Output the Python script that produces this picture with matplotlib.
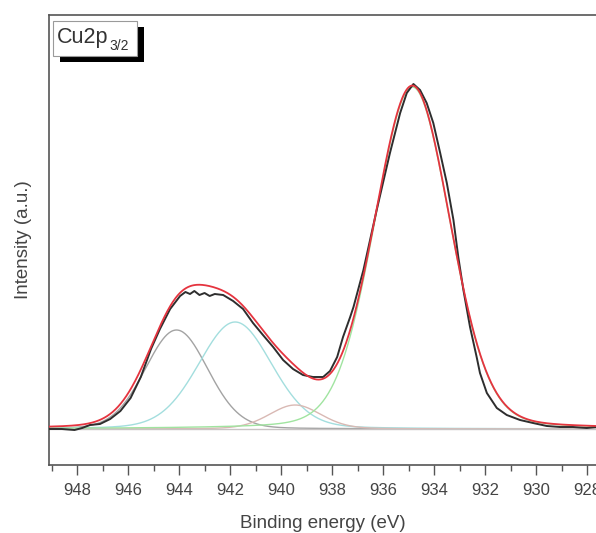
import numpy as np
import matplotlib
matplotlib.use("Agg")
import matplotlib.pyplot as plt
from matplotlib.patches import Rectangle

plt.rcParams['font.family'] = ['Liberation Sans', 'DejaVu Sans']

# Measured spectrum (binding energy in eV, intensity in a.u. above baseline)
energy = [949.1, 948.6, 948.1, 947.8, 947.5, 947.1, 946.7, 946.3, 945.9, 945.5,
          945.1, 944.75, 944.35, 943.96, 943.75, 943.57, 943.4, 943.2, 943.0, 942.8,
          942.6, 942.27, 941.88, 941.49, 941.1, 940.71, 940.31, 939.92, 939.53, 939.14,
          938.75, 938.35, 938.08, 937.8, 937.57, 937.29, 937.16, 936.77, 936.25, 935.73,
          935.33, 935.07, 934.81, 934.55, 934.29, 934.03, 933.76, 933.5, 933.24, 933.05,
          932.85, 932.59, 932.33, 932.2, 931.93, 931.54, 931.15, 930.63, 930.12, 929.58,
          929.06, 928.55, 928.01, 927.65]
intensity = [0, 0, -1, 1, 4, 5, 10, 18, 31, 52,
             80, 100, 120, 133, 137, 135, 138, 134, 136, 133,
             135, 134, 128, 120, 106, 94, 82, 69, 60, 54,
             52, 52, 58, 72, 92, 112, 122, 159, 219, 276,
             316, 336, 345, 339, 326, 306, 276, 246, 209, 172,
             139, 102, 72, 56, 36, 21, 14, 9, 6, 3,
             2, 2, 1, 2]

# Fitted components (pseudo-Voigt): centre, height, FWHM, Lorentzian fraction
comp_names = ["sat1", "sat2", "sat3", "main"]
comp_center = [944.1, 941.8, 939.45, 934.85]
comp_height = [99, 107, 24, 342]
comp_fwhm = [2.9, 3.4, 2.4, 3.5]
comp_mix = [0.1, 0.15, 0.2, 0.14]
comp_colors = ["#a3a3a3", "#a3dede", "#d9b9b4", "#a0e4a0"]

xlim = (949.1, 927.65)
ylim = (-36, 414)


def pv(x, c, h, w, m):
    d2 = ((x - c) / w) ** 2
    return h * (m / (1 + 4 * d2) + (1 - m) * np.exp(-4 * np.log(2) * d2))


W, H = 596, 533
fig = plt.figure(figsize=(W / 100, H / 100), dpi=100)
ax = fig.add_axes([49 / W, (H - 465) / H, 547 / W, 450 / H])

xs = np.linspace(xlim[0], xlim[1], 800)
total = np.zeros_like(xs)
for c, h, w, m, col in zip(comp_center, comp_height, comp_fwhm, comp_mix, comp_colors):
    y = pv(xs, c, h, w, m)
    total += y
    ax.plot(xs, y, color=col, lw=1.0, zorder=2)
ax.plot(xs, np.zeros_like(xs), color="#c8c4c4", lw=1.0, zorder=2.5)

ax.plot(energy, intensity, color="#2e2e2e", lw=1.4, zorder=3)
ax.plot(xs, total, color="#e5343f", lw=1.3, zorder=4)

ax.set_xlim(*xlim)
ax.set_ylim(*ylim)
ax.set_xticks(np.arange(948, 927, -2))
ax.set_xticks(np.arange(949, 927, -1), minor=True)
ax.set_yticks([])
ax.spines['right'].set_visible(False)
for s in ['left', 'bottom', 'top']:
    ax.spines[s].set_color('#555555')
    ax.spines[s].set_linewidth(1.2)
ax.tick_params(axis='x', which='major', length=7, width=1.0, color='#555555',
               labelsize=12, labelcolor='#444444', pad=6, direction='out')
ax.tick_params(axis='x', which='minor', length=4, width=1.0, color='#555555', direction='out')
ax.set_xlabel("Binding energy (eV)", fontsize=13.5, color='#444444', labelpad=12)
ax.set_ylabel("Intensity (a.u.)", fontsize=13.5, color='#444444', labelpad=12)

# Label box with drop shadow
def fx(px):
    return px / W

def fy(py):
    return 1 - py / H

fig.patches.append(Rectangle((fx(60), fy(62)), fx(144) - fx(60), fy(27) - fy(62),
                             transform=fig.transFigure, facecolor='black',
                             edgecolor='none', zorder=5))
fig.patches.append(Rectangle((fx(53), fy(56)), fx(137) - fx(53), fy(21) - fy(56),
                             transform=fig.transFigure, facecolor='white',
                             edgecolor='#9a9a9a', lw=0.8, zorder=6))
fig.text(fx(57), fy(43.5), "Cu2p", fontsize=15.5, color='#333333', zorder=7,
         ha='left', va='baseline')
fig.text(fx(109), fy(50), "3/2", fontsize=10, color='#333333', zorder=7,
         ha='left', va='baseline')

fig.savefig("out.png", dpi=100)
